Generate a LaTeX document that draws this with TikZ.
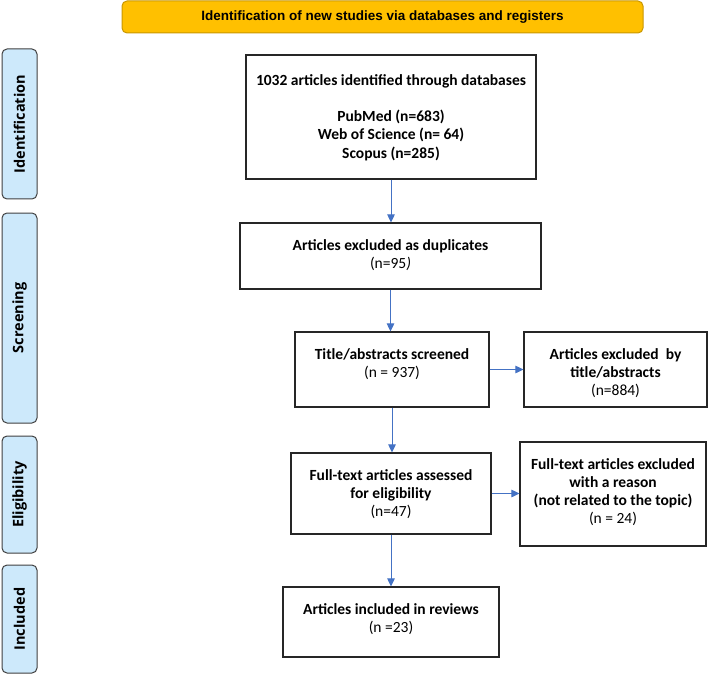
\documentclass[tikz,border=0pt]{standalone}
\usepackage{fontspec}
\setmainfont{Carlito}
\newfontfamily\stagefont{Open Sans}
\newfontfamily\bannerfont{Liberation Sans}
\usetikzlibrary{arrows.meta}
\definecolor{bannerfill}{HTML}{FFC000}
\definecolor{bannerline}{HTML}{C99700}
\definecolor{stagefill}{HTML}{CDE9FB}
\definecolor{flowblue}{HTML}{4472C4}
\newdimen\unitsize
\setlength{\unitsize}{1pt}

\begin{document}
\begin{tikzpicture}[x=\unitsize,y=-\unitsize,
  stagebox/.style={draw=black!75,fill=stagefill,line width=1pt,rounded corners=5pt,
    minimum height=35pt,inner sep=0pt,rotate=90,
    font=\stagefont\bfseries\fontsize{14.5}{16}\selectfont},
  flowbox/.style={draw=black!85,line width=1.1pt,inner sep=0pt},
  flowtext/.style={anchor=north,align=center,inner sep=0pt,
    font=\bfseries\fontsize{15.5}{18.3}\selectfont},
  flowarrow/.style={draw=flowblue,line width=0.9pt,-{Triangle[length=8pt,width=7.5pt]}}]
\useasboundingbox (0,0) rectangle (708,676);
\node[draw=bannerline,fill=bannerfill,line width=1pt,rounded corners=5pt,
  minimum width=521pt,minimum height=32pt,
  font=\bannerfont\bfseries\fontsize{13.5}{16}\selectfont] (banner) at (382.5,17)
  {Identification of new studies via databases and registers};
\foreach \stname/\stlabel/\stmid/\stlen in {ident/Identification/124/150,
  screen/Screening/318/210,elig/Eligibility/494.5/117,incl/Included/619/108}{
  \node[stagebox,minimum width=\stlen*\unitsize] (\stname) at (19.5,\stmid) {\stlabel};
}
\foreach \bxname/\bxx/\bxy/\bxw/\bxh in {found/391/117/290/124,dupl/390.5/256/301/66,
  screened/392/369.5/194/75,titleout/615.5/369.5/183/75,assessed/391/493.5/200/81,
  reasonout/613/494/186/104,included/391/622/216/70}{
  \node[flowbox,minimum width=\bxw*\unitsize,minimum height=\bxh*\unitsize] (\bxname) at (\bxx,\bxy) {};
}
\node[flowtext] (foundtxt) at (391,72) {\strut 1032 articles identified through databases\\[18.3pt]
  PubMed (n=683)\\Web of Science (n= 64)\\Scopus (n=285)};
\node[flowtext] (dupltxt) at (390.5,237) {\strut Articles excluded as duplicates\\\textmd{(n=95\textit{)}}};
\node[flowtext] (screenedtxt) at (392,346) {\strut Title/abstracts screened\\\textmd{(n = 937)}};
\node[flowtext] (titleouttxt) at (615.5,346) {\strut Articles excluded\ \ by\\title/abstracts\\\textmd{(n=884)}};
\node[flowtext] (assessedtxt) at (391,467) {\strut Full-text articles assessed\\for eligibility\\\textmd{(n=47)}};
\node[flowtext] (reasonouttxt) at (613,456) {\strut Full-text articles excluded\\with a reason\\(not related to the topic)\\\textmd{(n = 24)}};
\node[flowtext] (includedtxt) at (391,601) {\strut Articles included in reviews\\\textmd{(n =23)}};
\foreach \from/\to in {found/dupl,dupl/screened,screened/assessed,assessed/included}{
  \draw[flowarrow] (\from.south) -- (\from.south |- \to.north);
}
\foreach \from/\to in {screened/titleout,assessed/reasonout}{
  \draw[flowarrow] (\from.east) -- (\from.east -| \to.west);
}
\end{tikzpicture}
\end{document}
